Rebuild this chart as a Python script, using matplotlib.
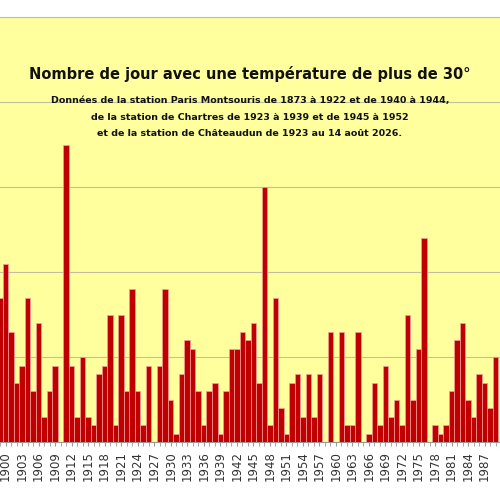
import matplotlib
matplotlib.use("Agg")
import matplotlib.pyplot as plt

years = list(range(1899, 1990))
values = [17, 21, 13, 7, 9, 17, 6, 14, 3, 6, 9, 0, 35, 9, 3, 10, 3, 2, 8, 9,
          15, 2, 15, 6, 18, 6, 2, 9, 0, 9, 18, 5, 1, 8, 12, 11, 6, 2, 6, 7,
          1, 6, 11, 11, 13, 12, 14, 7, 30, 2, 17, 4, 1, 7, 8, 3, 8, 3, 8, 0,
          13, 0, 13, 2, 2, 13, 0, 1, 7, 2, 9, 3, 5, 2, 15, 5, 11, 24, 0, 2,
          1, 2, 6, 12, 14, 5, 3, 8, 7, 4, 10]
tick_years = list(range(1900, 1990, 3))

title = "Nombre de jour avec une température de plus de 30°"
subtitle = ["Données de la station Paris Montsouris de 1873 à 1922 et de 1940 à 1944,",
            "de la station de Chartres de 1923 à 1939 et de 1945 à 1952",
            "et de la station de Châteaudun de 1923 au 14 août 2026."]

fam = ["DejaVu Sans"]
fig = plt.figure(figsize=(5, 5), dpi=100)
ax = fig.add_axes([0, 0.116, 1, 0.85])
ax.set_facecolor("#FFFF9E")
ax.bar(years, values, width=1.0, color="#C00000", edgecolor="#F0A0A0", linewidth=0.5, zorder=3)
ax.set_xlim(1899.05, 1989.8)
ax.set_ylim(0, 50)
ax.set_yticks(range(0, 51, 10))
ax.yaxis.grid(True, color="#C0C0A0", linewidth=0.8, zorder=0)
ax.tick_params(axis="y", left=False, labelleft=False)
ax.set_xticks(tick_years)
ax.set_xticklabels([str(y) for y in tick_years], rotation=90, fontsize=8.5, color="#333333")
ax.set_xticks([y for y in years], minor=True)
ax.tick_params(axis="x", which="both", length=3, color="#999999")
for s in ax.spines.values():
    s.set_visible(False)
ax.spines["bottom"].set_visible(True)
ax.spines["bottom"].set_color("#999999")
ax.spines["top"].set_visible(True)
ax.spines["top"].set_color("#C0C0A0")

fig.text(0.5, 0.853, title, ha="center", va="center", fontsize=10.5, fontweight="bold",
         family=fam, color="#111111")
for i, line in enumerate(subtitle):
    fig.text(0.5, 0.800 - i * 0.034, line, ha="center", va="center", fontsize=6.8,
             fontweight="bold", family=fam, color="#111111")
fig.savefig("out.png", dpi=100)
